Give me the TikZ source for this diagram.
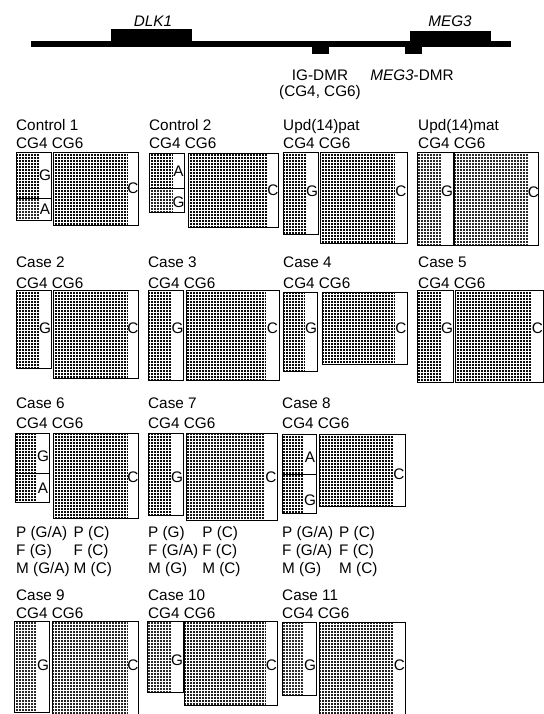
\documentclass[tikz,border=0pt]{standalone}
\usepackage{fontspec}
\setmainfont{Liberation Sans}
\usepackage{tikz}
\usetikzlibrary{positioning}
\newcommand\figfont{\fontsize{15.3}{18}\selectfont}

\begin{document}
\begin{tikzpicture}[x=1pt, y=-1pt,
  txt/.style={anchor=base west, inner sep=0pt, font=\figfont},
  gene/.style={inner sep=0pt, font=\figfont\itshape},
  note/.style={inner sep=0pt, font=\figfont},
  letter/.style={inner sep=0pt, font=\figfont},
  mesh/.style={draw=white, line width=0.5pt, step=3pt},
  frame/.style={draw=black, line width=0.9pt}
]
  \useasboundingbox (0,0) rectangle (543,714);

  \fill (31,41) rectangle (511,47);
  \fill (111,29) rectangle (192,44);
  \fill (410,31) rectangle (491,45);
  \fill (312,44) rectangle (329,54);
  \fill (405,44) rectangle (422,54);
  \node[gene] (dlk) at (153,21) {DLK1};
  \node[gene] (meg) at (450,21) {MEG3};
  \node[note] (igdmr) at (320,75) {IG-DMR};
  \node[note, below=5pt of igdmr] (igcg) {(CG4, CG6)};
  \node[note] (megdmr) at (412,75) {\textit{MEG3}-DMR};

  \foreach \nm/\x/\y/\t in {ctrlA/16/131/Control 1, ctrlB/149/131/Control 2,
      updpat/283/131/Upd(14)pat, updmat/418/131/Upd(14)mat,
      caseB/16/267/Case 2, caseC/148/267/Case 3, caseD/283/267/Case 4, caseE/418/267/Case 5,
      caseF/16/408/Case 6, caseG/148/408/Case 7, caseH/282/408/Case 8,
      caseI/16/600/Case 9, caseJ/148/600/Case 10, caseK/282/600/Case 11}
    \node[txt] (\nm) at (\x,\y) {\t};

  \foreach \nm/\x/\y in {cgA/16/149, cgB/149/149, cgC/283/149, cgD/418/149,
      cgE/16/288, cgF/148/288, cgG/283/288, cgH/418/288,
      cgI/16/428, cgJ/148/428, cgK/282/428,
      cgL/16/618, cgM/148/618, cgN/282/618}
    \node[txt] (\nm) at (\x,\y) {CG4 CG6};

  \foreach \nm/\xa/\ya/\xb/\yb/\xd/\tone/\ch/\ly in {
      c1six/53/152/138/225/128/96/C/188, c2six/188/153/278/227/268/96/C/190,
      patfour/283/152/318/234/306/96/G/191, patsix/320/152/407/243/395/96/C/191,
      matfour/417/152/453/245/441/84/G/191, matsix/454/152/538/245/529/84/C/192,
      k2four/16/290/51/368/39/96/G/328, k2six/53/290/138/378/128/96/C/328,
      k3four/148/290/183/380/172/96/G/328, k3six/186/290/279/380/266/96/C/328,
      k4four/283/292/317/371/305/96/G/328, k4six/322/292/407/364/395/96/C/328,
      k5four/417/290/453/382/441/96/G/328, k5six/455/290/543/382/532/96/C/328,
      k6six/53/433/138/518/128/96/C/477,
      k7four/148/433/183/515/171/96/G/477, k7six/186/433/277/520/265/92/C/477,
      k8six/319/434/405/506/393/96/C/474,
      k9four/14/621/49/712/37/84/G/665, k9six/52/621/138/716/128/86/C/665,
      k10four/147/621/183/692/171/84/G/660, k10six/184/621/277/705/266/88/C/665,
      k11four/282/622/316/695/304/82/G/665, k11six/319/622/405/716/394/88/C/665}
  {
    \fill[black!\tone] (\xa,\ya) rectangle (\xd,\yb);
    \draw[mesh] (\xa,\yb) grid (\xd,\ya);
    \draw[frame] (\xa,\ya) rectangle (\xb,\yb);
    \node[letter] (\nm) at ({(\xd+\xb)/2},\ly) {\ch};
  }

  \foreach \nm/\xa/\ya/\xb/\yb/\xd/\ys/\ca/\yu/\cb/\yl/\tone in {
      c1four/16/152/51/220/39/198/G/175/A/209/84, c2four/149/153/184/212/173/188/A/171/G/202/86,
      k6four/15/433/49/502/37/473/G/456/A/488/96, k8four/282/434/316/513/304/474/A/457/G/500/96}
  {
    \fill[black!96] (\xa,\ya) rectangle (\xd,\ys);
    \fill[black!\tone] (\xa,\ys) rectangle (\xd,\yb);
    \draw[mesh] (\xa,\yb) grid (\xd,\ya);
    \draw[frame] (\xa,\ya) rectangle (\xb,\yb);
    \draw[frame] (\xa,\ys) -- (\xb,\ys);
    \node[letter] (\nm-t) at ({(\xd+\xb)/2},\yu) {\ca};
    \node[letter] (\nm-b) at ({(\xd+\xb)/2},\yl) {\cb};
  }

  \node[txt] (parF) at (16,537) {\begin{tabular}[t]{@{}l@{\hspace{4pt}}l@{}}
    P (G/A) & P (C)\\ F (G) & F (C)\\ M (G/A) & M (C)\end{tabular}};
  \node[txt] (parG) at (148,537) {\begin{tabular}[t]{@{}l@{\hspace{4pt}}l@{}}
    P (G) & P (C)\\ F (G/A) & F (C)\\ M (G) & M (C)\end{tabular}};
  \node[txt] (parH) at (282,537) {\begin{tabular}[t]{@{}l@{\hspace{6pt}}l@{}}
    P (G/A) & P (C)\\ F (G/A) & F (C)\\ M (G) & M (C)\end{tabular}};
\end{tikzpicture}
\end{document}
